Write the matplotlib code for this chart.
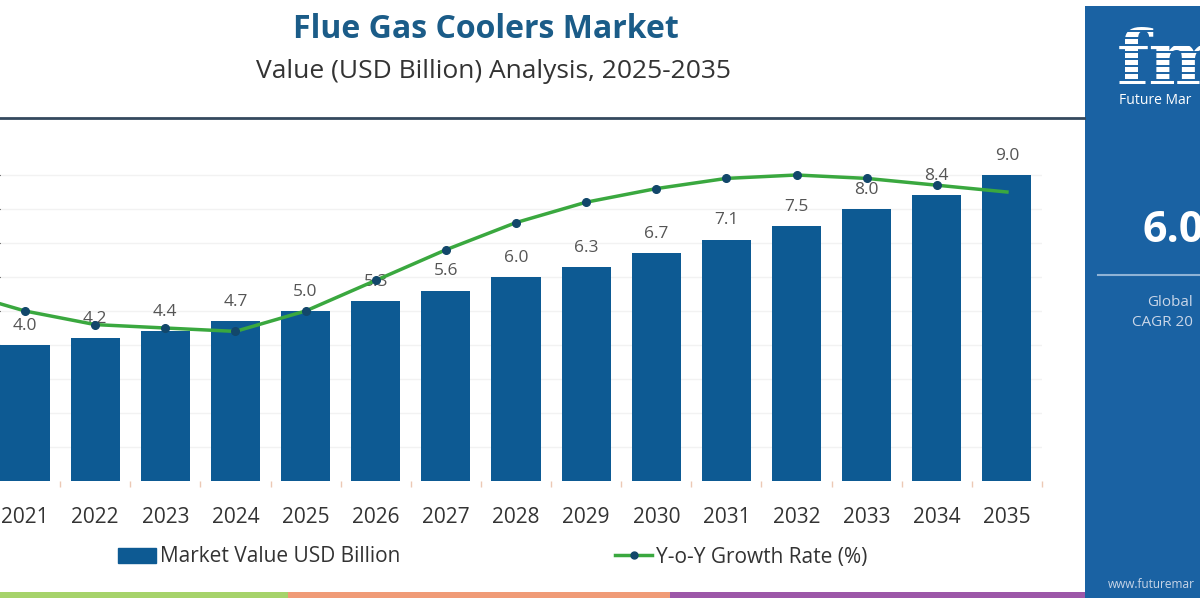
import numpy as np
import matplotlib.pyplot as plt
from matplotlib.patches import Patch, Rectangle
from matplotlib.lines import Line2D

# data
years = ["2021", "2022", "2023", "2024", "2025", "2026", "2027", "2028",
         "2029", "2030", "2031", "2032", "2033", "2034", "2035"]
market_value = [4.0, 4.2, 4.4, 4.7, 5.0, 5.3, 5.6, 6.0, 6.3, 6.7, 7.1, 7.5, 8.0, 8.4, 9.0]
# y-o-y growth (%), 2020 point sits just off the left edge
growth_years = ["2020"] + years
growth_rate = [5.6, 5.0, 4.6, 4.5, 4.4, 5.0, 5.9, 6.8, 7.6, 8.2, 8.6, 8.9, 9.0, 8.9, 8.7, 8.5]

bar_color = "#0d5a93"
line_color = "#3aa83f"
marker_color = "#12476b"
panel_color = "#1a62a3"

plt.rcParams["font.family"] = ["Open Sans", "DejaVu Sans"]

fig = plt.figure(figsize=(12, 6), dpi=100)
W, H = 1200, 600

def fx(px):
    return px / W

def fy(py):
    return 1 - py / H

# titles
fig.text(fx(486), fy(29), "Flue Gas Coolers Market", ha="center", va="center",
         fontsize=23, fontweight="bold", color="#1b5c88")
fig.text(fx(494), fy(72), "Value (USD Billion) Analysis, 2025-2035", ha="center",
         va="center", fontsize=19, color="#333333")
fig.add_artist(Line2D([0, fx(1084)], [fy(118), fy(118)], color="#34495e", lw=2))

# main chart
ax = fig.add_axes([0, fy(481), fx(1042), 340 / H])
x = np.arange(len(years))
ax.bar(x, market_value, width=0.7, color=bar_color, zorder=2)
for xi, v in zip(x, market_value):
    ax.annotate(f"{v:.1f}", (xi, v), xytext=(0, 8), textcoords="offset points",
                ha="center", va="bottom", fontsize=12.5, color="#555555", zorder=4)
ax.set_xlim(-0.357, 14.5)
ax.set_ylim(0, 10)
ax.set_yticks(np.arange(1, 10))
ax.yaxis.grid(True, color="#f2f2f2", lw=1, zorder=0)
ax.tick_params(axis="y", left=False, labelleft=False)
ax.set_xticks(x)
ax.set_xticklabels(years, fontsize=15, color="#333333")
ax.set_xticks(np.arange(-0.5, 15, 1), minor=True)
ax.tick_params(axis="x", which="major", length=0, pad=19)
ax.tick_params(axis="x", which="minor", length=4, color="#ecc9b5", width=1)
for s in ax.spines.values():
    s.set_visible(False)

ax2 = ax.twinx()
gx = np.arange(-1, len(years))
marks = list(range(1, len(growth_rate) - 1))
ax2.plot(gx, growth_rate, color=line_color, lw=2.5, marker="o", markersize=5.5,
         markerfacecolor=marker_color, markeredgecolor=marker_color,
         markevery=marks, zorder=3)
ax2.set_ylim(0, 10)
ax2.set_xlim(-0.357, 14.5)
ax2.axis("off")

# legend
handles = [Patch(facecolor=bar_color, edgecolor=bar_color),
           Line2D([], [], color=line_color, lw=2.5, marker="o", markersize=5,
                  markerfacecolor=marker_color, markeredgecolor=marker_color)]
fig.legend(handles, ["Market Value USD Billion", "Y-o-Y Growth Rate (%)"],
           loc="center", bbox_to_anchor=(fx(493), fy(557)), ncol=2, frameon=False,
           fontsize=15, handlelength=1.8, handletextpad=0.2, columnspacing=10.3,
           labelcolor="#333333")

# bottom colour strip
for x0, x1, c in [(0, 288, "#a6d36b"), (288, 670, "#f09b77"), (670, 1085, "#9c57a8")]:
    fig.add_artist(Rectangle((fx(x0), fy(598)), fx(x1 - x0), 6 / H,
                             facecolor=c, edgecolor="none"))

# right side panel (cut off at the right edge, as in the source)
fig.add_artist(Rectangle((fx(1085), fy(598)), fx(115), 592 / H,
                         facecolor=panel_color, edgecolor="none"))
fig.text(fx(1117), fy(84), "fm", ha="left", va="baseline", fontsize=54,
         fontweight="bold", family="DejaVu Serif", color="white")
for yy in range(31, 85, 7):
    fig.add_artist(Line2D([fx(1112), 1], [fy(yy), fy(yy)], color=panel_color,
                          lw=1.4, zorder=5))
fig.text(fx(1119), fy(101), "Future Mar", ha="left", va="center",
         fontsize=10, color="white")
fig.text(fx(1143), fy(230), "6.0", ha="left", va="center", fontsize=31,
         fontweight="bold", color="white")
fig.add_artist(Line2D([fx(1098), 1], [fy(275), fy(275)], color="#8fb3d6", lw=1.5))
fig.text(fx(1147), fy(303), "Global", ha="left", va="center",
         fontsize=11, color="#c9d6e8")
fig.text(fx(1132), fy(323), "CAGR 20", ha="left", va="center",
         fontsize=11, color="#c9d6e8")
fig.text(fx(1108), fy(585), "www.futuremar", ha="left", va="center",
         fontsize=8.5, color="#c9d6e8")

fig.savefig("out.png", dpi=100)
